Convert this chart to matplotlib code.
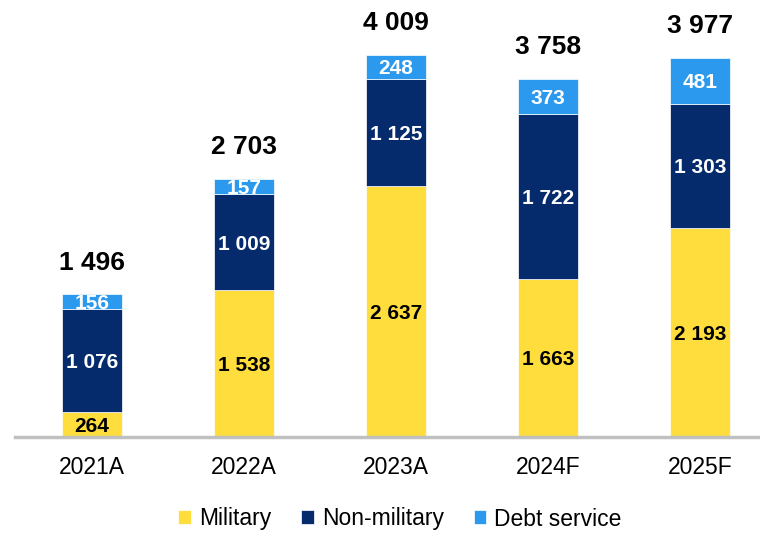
import matplotlib.pyplot as plt
import numpy as np

plt.rcParams['font.family'] = ['Liberation Sans', 'DejaVu Sans']

years = ['2021A', '2022A', '2023A', '2024F', '2025F']
military = [264, 1538, 2637, 1663, 2193]
non_military = [1076, 1009, 1125, 1722, 1303]
debt_service = [156, 157, 248, 373, 481]
totals = [1496, 2703, 4009, 3758, 3977]

c_mil = '#FFDD3C'
c_non = '#062B6C'
c_debt = '#2B9AEE'


def fmt(v):
    return f'{v:,}'.replace(',', ' ')


fig = plt.figure(figsize=(7.6, 5.33), dpi=100)
ax = fig.add_axes([15 / 760, 1 - 437 / 533, 745 / 760, 437 / 533])

x = np.arange(len(years))
w = 0.395
mil = np.array(military)
non = np.array(non_military)
debt = np.array(debt_service)

b1 = ax.bar(x, mil, w, color=c_mil, edgecolor='white', linewidth=0.5, label='Military')
b2 = ax.bar(x, non, w, bottom=mil, color=c_non, edgecolor='white', linewidth=0.5, label='Non-military')
b3 = ax.bar(x, debt, w, bottom=mil + non, color=c_debt, edgecolor='white', linewidth=0.5, label='Debt service')

for i in range(len(years)):
    ax.text(x[i], mil[i] / 2, fmt(military[i]), ha='center', va='center_baseline',
            fontsize=15, fontweight='bold', color='black')
    ax.text(x[i], mil[i] + non[i] / 2, fmt(non_military[i]), ha='center', va='center_baseline',
            fontsize=15, fontweight='bold', color='white')
    ax.text(x[i], mil[i] + non[i] + debt[i] / 2, fmt(debt_service[i]), ha='center',
            va='center_baseline', fontsize=15, fontweight='bold', color='white')
    ax.annotate(fmt(totals[i]), (x[i], totals[i]), xytext=(0, 23), textcoords='offset points',
                ha='center', va='center', fontsize=19, fontweight='bold', color='black')

ax.set_xlim(-0.507, 4.395)
ax.set_ylim(0, 437 / 0.09529)
ax.set_xticks(x)
ax.set_xticklabels(years, fontsize=16.5)
ax.tick_params(axis='x', length=0, pad=14)
ax.set_yticks([])
for s in ['top', 'left', 'right']:
    ax.spines[s].set_visible(False)
ax.spines['bottom'].set_color('#C0C0C0')
ax.spines['bottom'].set_linewidth(2.5)

fig.legend(handles=[b1, b2, b3], loc='center', bbox_to_anchor=(400 / 760, 1 - 519 / 533),
           ncol=3, frameon=False, fontsize=16.5, handlelength=0.55, handleheight=0.55,
           handletextpad=0.35, columnspacing=1.3)

fig.savefig('out.png', dpi=100)
